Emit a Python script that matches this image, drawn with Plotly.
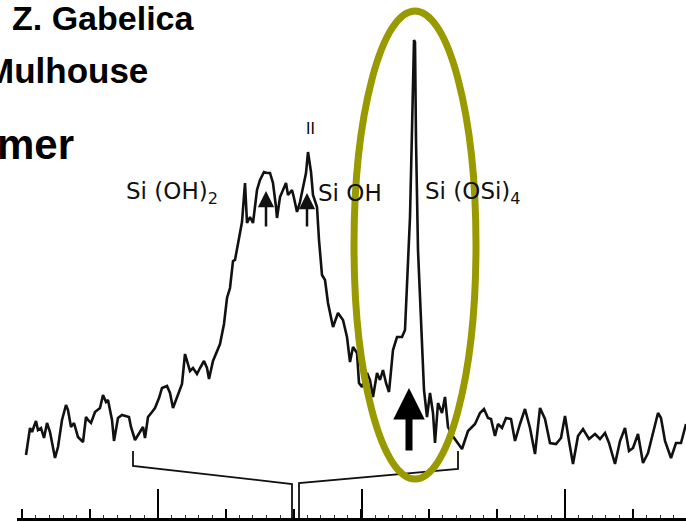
import plotly.graph_objects as go

W, H = 686, 522

# ---- spectrum trace (position units, intensity units) ----
pos = [26, 30, 32, 36, 38, 41, 44, 47, 50, 55, 58, 62, 66, 68, 71, 74, 78, 83, 86, 88, 91, 95, 100, 103, 106,
       108, 112, 114, 118, 122, 129, 131, 135, 140, 143, 145, 148, 152, 155, 159, 162, 167, 170, 173, 178,
       182, 185, 187, 190, 193, 197, 200, 204, 207, 209, 213, 217, 220, 224, 227, 230, 233, 235, 238, 242,
       245, 247, 250, 253, 257, 260, 264, 267, 270, 273, 276, 277, 280, 283, 286, 288, 292, 294, 297, 300,
       303, 306, 308, 311, 313, 317, 319, 322, 325, 328, 333, 338, 343, 347, 350, 353, 357, 359, 362, 367,
       370, 373, 377, 380, 383, 386, 389, 393, 397, 402, 405, 407, 410, 412, 414, 415, 416, 418, 420, 422,
       424, 427, 430, 433, 435, 438, 442, 445, 448, 452, 456, 462, 468, 475, 480, 484, 488, 491, 495, 498,
       502, 506, 511, 515, 520, 525, 530, 535, 540, 545, 550, 556, 561, 565, 569, 573, 578, 583, 589, 595,
       600, 605, 609, 615, 620, 625, 629, 633, 638, 643, 648, 653, 658, 661, 665, 671, 676, 681, 686]
ypix = [455, 428, 432, 421, 430, 428, 438, 423, 432, 458, 447, 420, 405, 410, 427, 423, 437, 442, 417, 420, 423,
        412, 408, 395, 402, 400, 420, 441, 418, 415, 417, 427, 440, 432, 427, 438, 417, 412, 408, 398, 388,
        386, 393, 408, 394, 384, 354, 361, 371, 368, 374, 368, 361, 368, 379, 361, 351, 344, 324, 298, 288,
        261, 260, 243, 222, 183, 223, 217, 223, 190, 180, 172, 173, 173, 183, 207, 218, 197, 190, 183, 195,
        190, 198, 212, 202, 188, 173, 152, 172, 195, 207, 240, 275, 280, 303, 327, 313, 320, 337, 362, 347,
        353, 383, 387, 373, 380, 397, 373, 380, 370, 383, 392, 350, 337, 337, 330, 283, 217, 130, 40, 42,
        140, 250, 300, 350, 390, 417, 393, 413, 443, 403, 413, 397, 427, 435, 441, 449, 431, 424, 413, 409,
        418, 419, 436, 424, 428, 418, 419, 441, 424, 409, 428, 454, 408, 419, 443, 444, 438, 416, 441, 464,
        436, 429, 439, 434, 439, 433, 443, 464, 441, 428, 451, 448, 434, 463, 453, 434, 413, 418, 441, 458,
        443, 443, 424]
intensity = [H - v for v in ypix]

# ---- bracket under the spectrum ----
bracket_x = [133, 133, 292, 292, None, 299, 299, 458, 458]
bracket_y = [71, 56, 38, 4, None, 4, 39, 53, 71]

# ---- scale ticks ----
major_ticks = [158, 361.5, 565]
minor_step = 67.83
tiny_step = 13.57

# ---- labels ----
peak_labels = [
    ("Si (OH)<sub>2</sub>", 124, 329),
    ("Si OH", 316, 329),
    ("Si (OSi)<sub>4</sub>", 423, 329),
]
arrows_small = [(266, 331, 294), (307, 329, 294)]
big_arrow = (409, 134, 70)

L, B = 17, 4  # margins (px)
PW, PH = W - L, H - B


def px(xp):
    return (xp - L) / PW


def py(yp):
    return (H - B - yp) / PH


fig = go.Figure()
fig.add_trace(go.Scatter(x=pos, y=intensity, mode="lines",
                         line=dict(color="#111111", width=2.6), hoverinfo="skip", showlegend=False))
fig.add_trace(go.Scatter(x=bracket_x, y=bracket_y, mode="lines", xaxis="x2",
                         line=dict(color="#111111", width=1.8), hoverinfo="skip", showlegend=False))

anns = []
for txt, xx, yy in peak_labels:
    anns.append(dict(x=xx, y=yy, xref="x", yref="y", text=txt, showarrow=False, xanchor="left",
                     yanchor="middle", font=dict(family="DejaVu Sans", size=23, color="#111111")))
anns.append(dict(x=310, y=393, xref="x", yref="y", text="II", showarrow=False, xanchor="center",
                 yanchor="middle", font=dict(family="DejaVu Sans", size=15, color="#000000")))
for xx, ytip, ytail in arrows_small:
    anns.append(dict(x=xx, y=ytip, ax=xx, ay=ytail, xref="x", yref="y", axref="x", ayref="y",
                     showarrow=True, arrowhead=2, arrowsize=1.3, arrowwidth=2.5, arrowcolor="#111111",
                     text=""))
xx, ytip, ytail = big_arrow
anns.append(dict(x=xx, y=ytip, ax=xx, ay=ytail, xref="x", yref="y", axref="x", ayref="y",
                 showarrow=True, arrowhead=2, arrowsize=0.9, arrowwidth=7, arrowcolor="#000000", text=""))

tfont = "Liberation Sans, Arial, sans-serif"
anns.append(dict(x=px(10), y=py(18), xref="paper", yref="paper", text="<b>Z. Gabelica</b>",
                 showarrow=False, xanchor="left", yanchor="middle",
                 font=dict(family=tfont, size=34, color="#000")))
anns.append(dict(x=px(150), y=py(71), xref="paper", yref="paper", text="<b>Mulhouse</b>",
                 showarrow=False, xanchor="right", yanchor="middle",
                 font=dict(family=tfont, size=35, color="#000")))
anns.append(dict(x=px(76), y=py(144), xref="paper", yref="paper", text="<b>mer</b>",
                 showarrow=False, xanchor="right", yanchor="middle",
                 font=dict(family=tfont, size=42, color="#000")))

fig.update_layout(
    width=W, height=H,
    margin=dict(l=L, r=0, t=0, b=B, pad=0),
    paper_bgcolor="white", plot_bgcolor="white",
    showlegend=False,
    annotations=anns,
    shapes=[dict(type="circle", xref="x", yref="y", x0=354, x1=476, y0=43, y1=511,
                 line=dict(color="#999900", width=7), layer="above")],
    xaxis=dict(range=[L, W], showgrid=False, zeroline=False, showline=True, linecolor="#000",
               linewidth=3, ticks="inside", tick0=major_ticks[0], dtick=minor_step, ticklen=9,
               tickwidth=1.8, tickcolor="#000", showticklabels=False,
               minor=dict(ticks="inside", dtick=tiny_step, tick0=major_ticks[0], ticklen=3,
                          tickwidth=1, tickcolor="#333")),
    xaxis2=dict(range=[L, W], overlaying="x", anchor="y", side="bottom", showgrid=False,
                zeroline=False, showline=False, ticks="inside", tickvals=major_ticks, ticklen=29,
                tickwidth=2.2, tickcolor="#000", showticklabels=False),
    yaxis=dict(range=[B, H], visible=False, showgrid=False, zeroline=False),
)

fig.write_html("out.html")
